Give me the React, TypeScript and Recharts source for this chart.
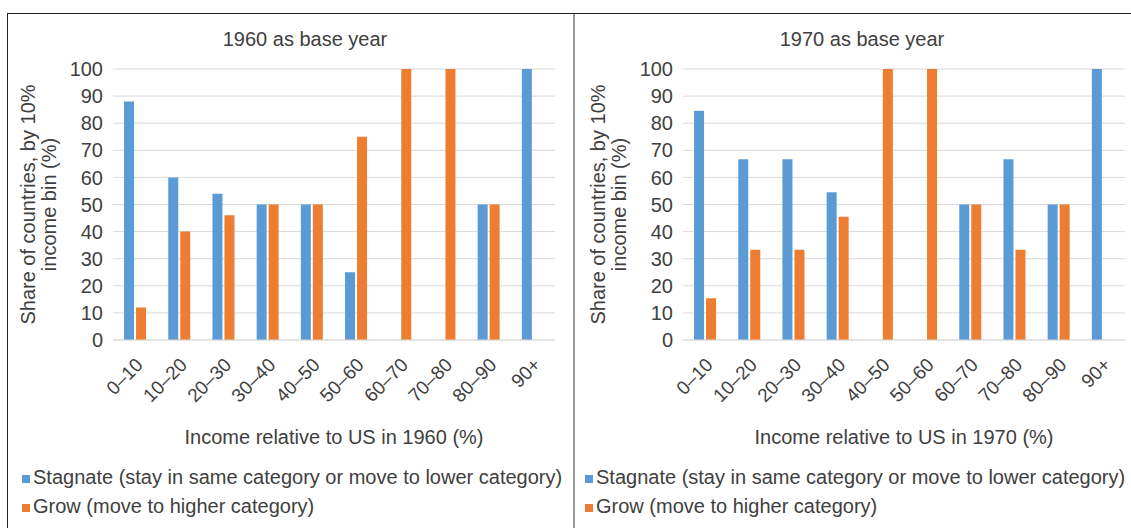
import { Bar, BarChart, CartesianGrid, Legend, XAxis, YAxis } from "recharts";

const categories = ["0–10", "10–20", "20–30", "30–40", "40–50", "50–60", "60–70", "70–80", "80–90", "90+"];
const stagnate1960 = [88, 60, 54, 50, 50, 25, 0, 0, 50, 100];
const grow1960 = [12, 40, 46, 50, 50, 75, 100, 100, 50, 0];
const stagnate1970 = [84.6, 66.7, 66.7, 54.5, 0, 0, 50, 66.7, 50, 100];
const grow1970 = [15.4, 33.3, 33.3, 45.5, 100, 100, 50, 33.3, 50, 0];
const yTicks = [0, 10, 20, 30, 40, 50, 60, 70, 80, 90, 100];

const BLUE = "#5b9bd5";
const ORANGE = "#ed7d31";
const TEXT = "#404040";
const FONT = "'Liberation Sans', Arial, sans-serif";

const toRows = (stag: number[], grow: number[]) =>
  categories.map((c, i) => ({ bin: c, stagnate: stag[i], grow: grow[i] }));

const XTick = ({ x, y, payload }: any) => (
  <text
    x={x + 9}
    y={y + 24}
    textAnchor="end"
    transform={`rotate(-45, ${x + 9}, ${y + 24})`}
    fontSize={19}
    fill={TEXT}
    fontFamily={FONT}
  >
    {payload.value}
  </text>
);

// two-line rotated axis title, like the Excel original
const YLabel = ({ viewBox }: any) => {
  const right = viewBox.x + viewBox.width;
  const cy = viewBox.y + viewBox.height / 2;
  return (
    <g fontSize={20} fill={TEXT} fontFamily={FONT}>
      <text x={right - 85} y={cy} textAnchor="middle" dominantBaseline="central" transform={`rotate(-90, ${right - 85}, ${cy})`}>
        Share of countries, by 10%
      </text>
      <text x={right - 64} y={cy} textAnchor="middle" dominantBaseline="central" transform={`rotate(-90, ${right - 64}, ${cy})`}>
        income bin (%)
      </text>
    </g>
  );
};

const legendItems = [
  { label: "Stagnate (stay in same category or move to lower category)", color: BLUE },
  { label: "Grow (move to higher category)", color: ORANGE },
];

const LegendBox = () => (
  <div style={{ fontFamily: FONT, fontSize: 20, color: TEXT, whiteSpace: "nowrap" }}>
    {legendItems.map((it) => (
      <div key={it.label} style={{ display: "flex", alignItems: "center", height: 29 }}>
        <span style={{ width: 8, height: 8, background: it.color, marginRight: 3, marginTop: 3 }} />
        {it.label}
      </div>
    ))}
  </div>
);

function Panel({ left, width, axisW, rightM, title, titleX, xTitle, data, legendX }: any) {
  return (
    <div style={{ position: "absolute", left, top: 14, width, height: 514 }}>
      <div
        style={{
          position: "absolute", top: 14, left: titleX - 150, width: 300, textAlign: "center",
          fontFamily: FONT, fontSize: 20, color: TEXT, lineHeight: "22px",
        }}
      >
        {title}
      </div>
      <BarChart width={width} height={514} data={data} margin={{ top: 55, right: rightM, bottom: 0, left: 0 }} barCategoryGap="25%" barGap={2}>
        <CartesianGrid vertical={false} stroke="#d9d9d9" />
        <XAxis
          dataKey="bin"
          height={188}
          interval={0}
          tickLine={false}
          tickSize={0}
          stroke="#d9d9d9"
          tick={<XTick />}
          label={{ value: xTitle, position: "insideBottom", offset: 84, fontSize: 20, fill: TEXT, fontFamily: FONT }}
        />
        <YAxis
          width={axisW}
          domain={[0, 100]}
          ticks={yTicks}
          interval={0}
          axisLine={false}
          tickLine={false}
          tickSize={0}
          tickMargin={10}
          tick={{ fontSize: 20, fill: TEXT, fontFamily: FONT }}
          label={<YLabel />}
        />
        <Legend
          layout="horizontal"
          verticalAlign="middle"
          align="center"
          content={<LegendBox />}
          wrapperStyle={{ left: legendX, top: 449, width: 560 }}
        />
        <Bar dataKey="stagnate" name="Stagnate" fill={BLUE} isAnimationActive={false} />
        <Bar dataKey="grow" name="Grow" fill={ORANGE} isAnimationActive={false} />
      </BarChart>
    </div>
  );
}

export default function App() {
  return (
    <div style={{ position: "absolute", left: 0, top: 0, width: 1131, height: 528, background: "#fff", overflow: "hidden" }}>
      <div style={{ position: "absolute", left: 7, top: 13, width: 1130, height: 520, borderTop: "1px solid #222", borderLeft: "1px solid #222" }} />
      <div style={{ position: "absolute", left: 573, top: 14, width: 2, height: 520, background: "#9a9a9a" }} />
      <Panel
        left={8}
        width={565}
        axisW={105}
        rightM={18}
        title="1960 as base year"
        titleX={297}
        xTitle="Income relative to US in 1960 (%)"
        data={toRows(stagnate1960, grow1960)}
        legendX={14}
      />
      <Panel
        left={576}
        width={555}
        axisW={107}
        rightM={6}
        title="1970 as base year"
        titleX={286}
        xTitle="Income relative to US in 1970 (%)"
        data={toRows(stagnate1970, grow1970)}
        legendX={9}
      />
    </div>
  );
}
